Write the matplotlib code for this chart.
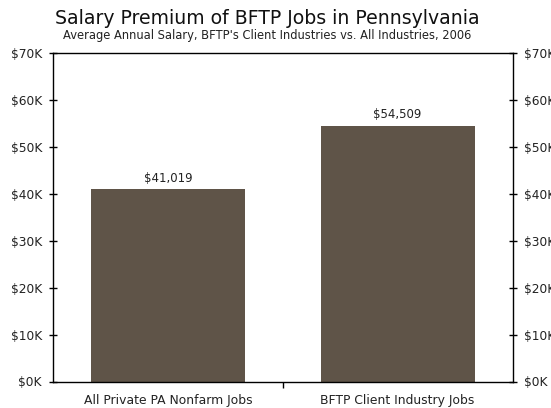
import matplotlib.pyplot as plt

# data
categories = ["All Private PA Nonfarm Jobs", "BFTP Client Industry Jobs"]
salaries = [41019, 54509]
yticks = [0, 10000, 20000, 30000, 40000, 50000, 60000, 70000]

bar_color = "#5f5448"

fig = plt.figure(figsize=(5.51, 4.08), dpi=100)
ax = fig.add_axes([53 / 551, 1 - 381.5 / 408, 459.5 / 551, 328.5 / 408])

x = range(len(categories))
bars = ax.bar(x, salaries, width=0.67, color=bar_color)

for xi, v in zip(x, salaries):
    ax.text(xi, v + 900, "${:,}".format(v), ha="center", va="bottom",
            fontsize=8.5, color="#222222")

ax.set_xlim(-0.5, 1.5)
ax.set_ylim(0, 70000)

# y axis on both sides
ax.set_yticks(yticks)
ax.set_yticklabels(["${}K".format(t // 1000) for t in yticks])
ax.tick_params(axis="y", direction="inout", length=6, width=1, labelsize=8.8,
               left=True, right=True, labelleft=True, labelright=True, pad=5,
               labelcolor="#222222")

# category labels, tick only at the boundary
ax.set_xticks([0, 1])
ax.set_xticklabels(categories)
ax.set_xticks([0.5], minor=True)
ax.tick_params(axis="x", which="major", length=0, labelsize=8.9, pad=9,
               labelcolor="#222222")
ax.tick_params(axis="x", which="minor", direction="out", length=4, width=1)

for s in ax.spines.values():
    s.set_linewidth(1)

fig.text(267.5 / 551, 1 - 19 / 408, "Salary Premium of BFTP Jobs in Pennsylvania",
         ha="center", va="center", fontsize=13.6, color="#111111")
fig.text(267 / 551, 1 - 36 / 408,
         "Average Annual Salary, BFTP's Client Industries vs. All Industries, 2006",
         ha="center", va="center", fontsize=8.3, color="#222222")

plt.savefig("out.png", dpi=100)
